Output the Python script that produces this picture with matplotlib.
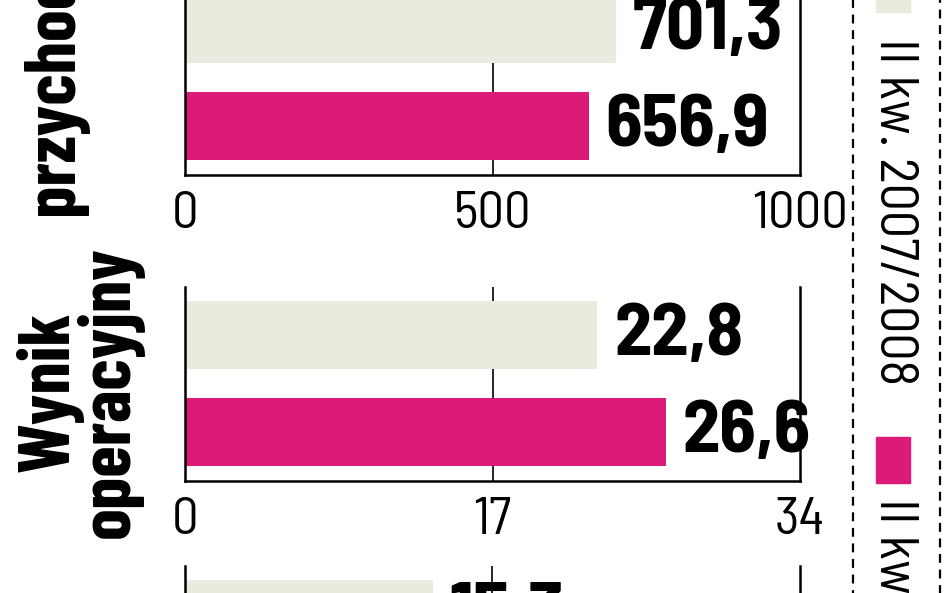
import matplotlib
matplotlib.use("Agg")
import matplotlib.pyplot as plt
from matplotlib.patches import Rectangle

# dane (mln zł)
panele = ["przychody", "Wynik\noperacyjny", ""]
okres_stary = [701.3, 22.8, 15.3]      # II kw. 2007/2008
okres_nowy = [656.9, 26.6, None]       # II kw. 2008/2009 (trzeci poza kadrem)
skale = [1000, 34, 38]
etykiety_legendy = ["II kw. 2007/2008", "II kw. 2008/2009"]

JASNY = "#EAEADF"
ROZ = "#DC1A78"
W, H = 948, 593

plt.rcParams['font.family'] = ['Barlow Semi Condensed', 'DejaVu Sans']
WASKI = ['Barlow Condensed', 'DejaVu Sans']

fig = plt.figure(figsize=(W / 100, H / 100), dpi=100)

def fx(px):
    return px / W

def fy(py):
    return 1 - py / H

# gorne krawedzie paneli w pikselach
gora = [-19.5, 286.5, 565.5]
wys = 194

for i in range(3):
    ax = fig.add_axes([fx(185), fy(gora[i] + wys), fx(800) - fx(185), wys / H])
    mx = skale[i]
    ax.set_xlim(0, mx)
    ax.set_ylim(-0.5, 1.5)
    ax.axvline(mx / 2, color="black", lw=1.2, zorder=0)
    ax.barh(1, okres_stary[i], height=0.71, color=JASNY, zorder=2)
    ax.annotate(f"{okres_stary[i]:.1f}".replace(".", ","), (okres_stary[i], 1),
                xytext=(12, -1), textcoords="offset points", va="center", ha="left",
                fontsize=54, fontweight="bold", zorder=5, annotation_clip=False)
    if okres_nowy[i] is not None:
        ax.barh(0, okres_nowy[i], height=0.71, color=ROZ, zorder=2)
        ax.annotate(f"{okres_nowy[i]:.1f}".replace(".", ","), (okres_nowy[i], 0),
                    xytext=(12, -1), textcoords="offset points", va="center", ha="left",
                    fontsize=54, fontweight="bold", zorder=5, annotation_clip=False)
    ax.spines["top"].set_visible(False)
    for s in ["left", "bottom", "right"]:
        ax.spines[s].set_linewidth(1.8)
        ax.spines[s].set_zorder(4)
    ax.set_yticks([])
    ax.set_xticks([0, mx / 2, mx])
    ax.set_xticklabels([f"{t:g}" for t in ax.get_xticks()])
    ax.tick_params(axis="x", length=0, pad=12, labelsize=38)
    ax.patch.set_alpha(0)

# podpisy kategorii
fig.text(fx(55), fy(215), panele[0], rotation=90, ha="center", va="bottom",
         fontsize=52, fontweight="bold", family=WASKI)
fig.text(fx(80), fy(392), panele[1], rotation=90, ha="center", va="center",
         fontsize=52, fontweight="bold", linespacing=0.85, multialignment="center",
         family=WASKI)

# legenda
fig.patches.append(Rectangle((fx(853), fy(700)), fx(940) - fx(853), fy(-100) - fy(700),
                             transform=fig.transFigure, fill=False, ls=(0, (4, 3)),
                             lw=1.6, ec="black"))
fig.patches.append(Rectangle((fx(876), fy(12)), fx(34), fy(0) - fy(12) + 0.05,
                             transform=fig.transFigure, color=JASNY))
fig.patches.append(Rectangle((fx(876), fy(483)), fx(34), 46 / H,
                             transform=fig.transFigure, color=ROZ))
fig.text(fx(893), fy(38), etykiety_legendy[0], rotation=-90, ha="center", va="top",
         fontsize=39)
fig.text(fx(893), fy(498), etykiety_legendy[1], rotation=-90, ha="center", va="top",
         fontsize=39)

fig.savefig("out.png", dpi=100, facecolor="white")
